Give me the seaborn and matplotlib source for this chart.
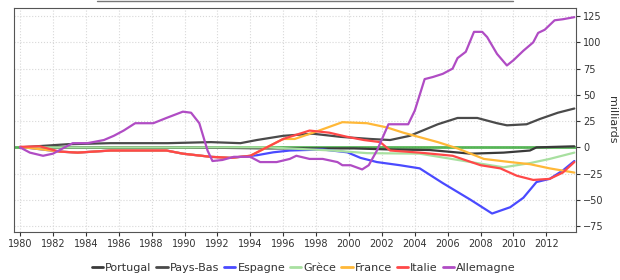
import matplotlib
matplotlib.use("Agg")
from matplotlib import pyplot as plt
from matplotlib.lines import Line2D
import pandas as pd
import seaborn as sns

# Points (years, milliards)
portugal_years = [1980, 1985, 1990, 1995, 2000.3, 2002.5, 2004.9, 2007.4, 2009.4, 2011, 2011.4, 2013.7]
portugal_vals = [0, 0, 0, -1, -1, -2, -2.5, -6, -5, -3, 0, 1]

paysbas_years = [1980, 1982.9, 1985.5, 1989, 1991.6, 1993.4, 1994.4, 1996, 1997.8, 1999.5, 2001.3,
                 2002.5, 2003.7, 2005.4, 2006.6, 2007.8, 2009.0, 2009.6, 2010.8, 2011.6, 2012.7, 2013.7]
paysbas_vals = [0, 3, 4, 4, 5, 4, 7, 11, 13, 10, 8,
                7, 11, 22, 28, 28, 23, 21, 22, 27, 33, 37]

espagne_years = [1980, 1982.4, 1983.5, 1985.5, 1988.9, 1989.9, 1991.6, 1992.8, 1994.4, 1995.4, 1996.4,
                 1998.4, 1999.9, 2000.7, 2001.7, 2003.1, 2004.3, 2005.7, 2007.4, 2008.7, 2009.8,
                 2010.6, 2011.4, 2012.2, 2013.0, 2013.7]
espagne_vals = [0.5, -4, -5, -3, -3, -6, -9, -10, -7.5, -4.7, -3,
                -2, -4.7, -10, -14, -17, -20, -34, -50, -63, -57,
                -48, -33, -30, -22, -13]

grece_years = [1980, 1995, 1999, 2001.1, 2004.3, 2007.4, 2009.4, 2011, 2012.2, 2013.7]
grece_vals = [0, 0, -3, -5.5, -6, -14, -19, -15, -11, -5]

france_years = [1980, 1982.4, 1983.5, 1985.5, 1988.9, 1989.9, 1991.6, 1992.8, 1994, 1995, 1996, 1996.7,
                1998, 1999.6, 2001.1, 2002.3, 2003.3, 2005.4, 2006.6, 2008.2, 2009.8, 2011,
                2012.2, 2013.7]
france_vals = [0.5, -4, -5, -3, -3, -6, -9, -10, -8, 0, 8, 8,
               15, 24, 23, 19, 14, 5, -1, -11, -14, -16,
               -20, -24]

italie_years = [1980, 1981.2, 1982.4, 1983.5, 1985.5, 1988.9, 1989.9, 1991.6, 1992.8, 1994, 1995,
                1996, 1997, 1997.6, 1998.8, 1999.9, 2000.9, 2001.9, 2002.5, 2004.3, 2006.3, 2008,
                2009.2, 2010.2, 2011.2, 2012.2, 2013, 2013.7]
italie_vals = [0.5, 1, -4, -5, -3, -3, -6, -9, -10, -8, 0,
               8, 13, 16, 14, 10, 7, 5, -3, -5, -8, -17,
               -20, -27, -31, -30, -24, -14]

allemagne_years = [1980, 1980.6, 1981.4, 1982.0, 1982.6, 1983.2, 1984.1, 1985.1, 1985.7, 1986.3,
                   1987.0, 1988.1, 1988.9, 1989.9, 1990.4, 1990.9, 1991.4, 1991.7, 1992.3, 1993,
                   1994, 1994.6, 1995.6, 1996.4, 1996.8, 1997.6, 1998.4, 1999.3, 1999.6, 2000.1,
                   2000.8, 2001.2, 2001.7, 2002.4, 2003.6, 2004.0, 2004.6, 2005.1, 2005.7, 2006.3,
                   2006.6, 2007.1, 2007.6, 2008.1, 2008.4, 2009.0, 2009.6, 2010.0, 2010.6, 2011.2,
                   2011.5, 2011.9, 2012.5, 2013.0, 2013.7]
allemagne_vals = [0, -5, -8, -6, -1, 4, 4, 7, 11, 16,
                  23, 23, 28, 34, 33, 23, -3, -13, -12, -9,
                  -9, -14, -14, -11, -8, -11, -11, -14, -17, -17,
                  -21, -17, -3, 22, 22, 35, 65, 67, 70, 75,
                  85, 91, 110, 110, 105, 89, 78, 83, 92, 100,
                  109, 112, 121, 122, 124]

names = ['Portugal', 'Pays-Bas', 'Espagne', 'Grèce', 'France', 'Italie', 'Allemagne']
colors = ['#3a3a3a', '#4a4a4a', '#4a4aff', '#a8e0a0', '#ffb838', '#ff4848', '#b04cc4']
series = [(portugal_years, portugal_vals), (paysbas_years, paysbas_vals),
          (espagne_years, espagne_vals), (grece_years, grece_vals),
          (france_years, france_vals), (italie_years, italie_vals),
          (allemagne_years, allemagne_vals)]

rows = []
for name, (yrs, vals) in zip(names, series):
    for y, v in zip(yrs, vals):
        rows.append({'pays': name, 'annee': y, 'valeur': v})
df = pd.DataFrame(rows)

sns.set_style("whitegrid", {'grid.linestyle': ':', 'grid.color': '#d8d8d8',
                            'axes.edgecolor': '#555555'})
plt.rcParams['font.family'] = ['DejaVu Sans']

fig = plt.figure(figsize=(6.2, 2.8), dpi=100)
ax = fig.add_axes([0.023, 0.171, 0.906, 0.8])

for name, col in zip(names, colors):
    sns.lineplot(data=df[df['pays'] == name], x='annee', y='valeur', color=col,
                 linewidth=1.6, ax=ax, estimator=None, sort=True)
ax.axhline(0, color='#3caa3c', linewidth=2, alpha=0.85, zorder=1.5)

ax.set_xlim(1979.65, 2013.8)
ax.set_ylim(-80.7, 132.6)
ax.set_xticks(range(1980, 2013, 2))
ax.set_yticks(range(-75, 126, 25))
ax.yaxis.tick_right()
ax.yaxis.set_label_position('right')
ax.set_ylabel('milliards', rotation=270, labelpad=10, fontsize=8, color='#333333')
ax.set_xlabel('')
ax.tick_params(axis='both', labelsize=7, colors='#333333', length=3, direction='out',
               bottom=True, right=True, pad=2)
for sp in ax.spines.values():
    sp.set_linewidth(0.8)

handles = [Line2D([0], [0], color=c, linewidth=2) for c in colors]
fig.legend(handles, names, loc='lower center', bbox_to_anchor=(0.49, -0.01), ncol=7,
           frameon=False, fontsize=8, handlelength=1.0, handletextpad=0.2,
           columnspacing=0.45, labelcolor='#333333')

fig.add_artist(Line2D([97 / 620, 513 / 620], [0.997, 0.997], color='#777777', linewidth=1))

plt.savefig('out.png', dpi=100)
